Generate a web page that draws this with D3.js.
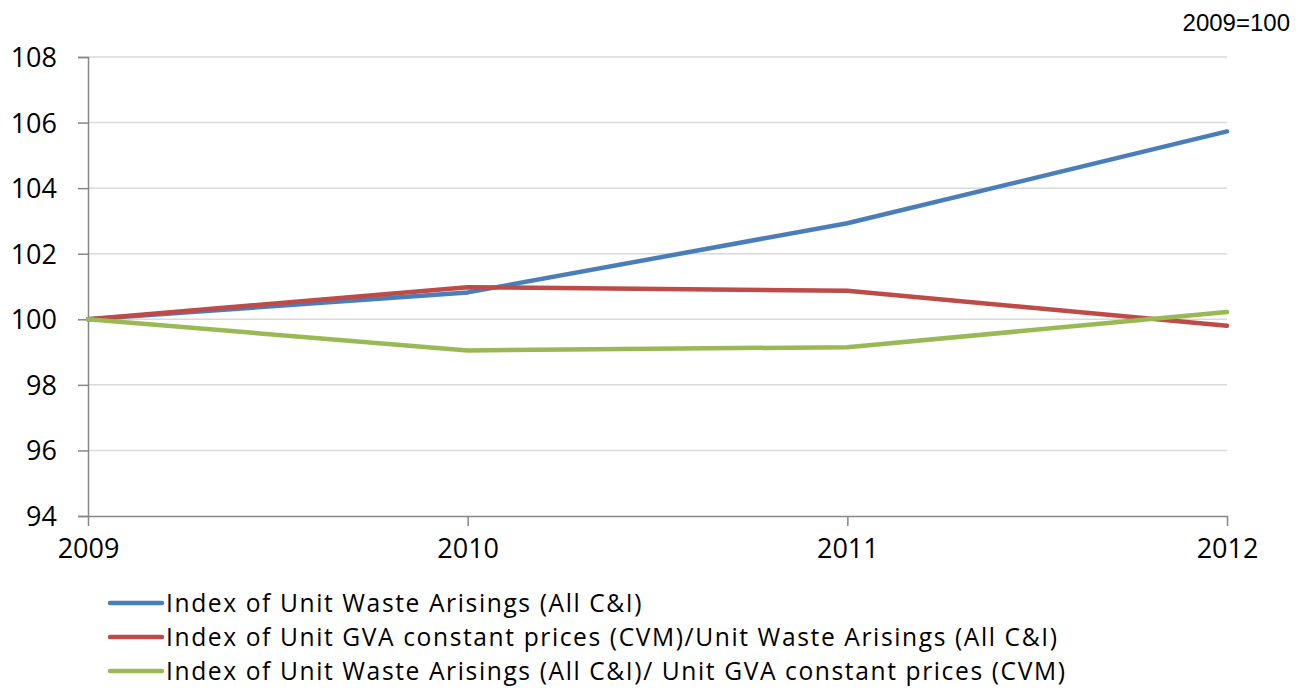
<!DOCTYPE html>
<html><head><meta charset="utf-8">
<script src="https://cdn.jsdelivr.net/npm/d3@7"></script>
<style>body{margin:0;background:#fff;} svg{display:block;}</style>
</head><body>
<svg id="c" width="1298" height="691"></svg>
<script>
const years = ["2009","2010","2011","2012"];
const yTicks = [94,96,98,100,102,104,106,108];
const blueVals = [100, 100.82, 102.93, 105.73];
const redVals = [100, 100.98, 100.87, 99.80];
const greenVals = [100, 99.05, 99.15, 100.22];
const seriesNames = [
  "Index of Unit Waste Arisings (All C&I)",
  "Index of Unit GVA constant prices (CVM)/Unit Waste Arisings (All C&I)",
  "Index of Unit Waste Arisings (All C&I)/ Unit GVA constant prices (CVM)"
];
const colors = ["#4a7ebb","#be4b48","#98b954"];
const series = [blueVals, redVals, greenVals];
const unitNote = "2009=100";

const svg = d3.select("#c");
const font = "'Open Sans', sans-serif";
const x = d3.scalePoint().domain(years).range([88,1227]);
const y = d3.scaleLinear().domain([94,108]).range([516,57]);

// gridlines
svg.append("g").selectAll("line").data(yTicks.filter(d=>d!==94)).join("line")
  .attr("x1",88).attr("x2",1227).attr("y1",d=>y(d)).attr("y2",d=>y(d))
  .attr("stroke","#d9d9d9").attr("stroke-width",1.5);

// y axis
const ya = svg.append("g").attr("transform","translate(88,0)")
  .call(d3.axisLeft(y).tickValues(yTicks).tickSize(10).tickPadding(21));
ya.select(".domain").attr("stroke","#868686").attr("stroke-width",1.5);
ya.selectAll(".tick line").attr("stroke","#868686").attr("stroke-width",1.5);
ya.selectAll("text").attr("font-family",font).attr("font-size",27).attr("fill","#000").attr("dy","0.35em");

// x axis
const xa = svg.append("g").attr("transform","translate(0,516)")
  .call(d3.axisBottom(x).tickSize(10).tickPadding(13).tickSizeOuter(0));
xa.select(".domain").attr("stroke","#868686").attr("stroke-width",1.5);
xa.selectAll(".tick line").attr("stroke","#868686").attr("stroke-width",1.5);
xa.selectAll("text").attr("font-family",font).attr("font-size",27).attr("fill","#000");

// lines
const line = d3.line().x((d,i)=>x(years[i])).y(d=>y(d));
svg.append("g").selectAll("path").data(series).join("path")
  .attr("d",line).attr("fill","none")
  .attr("stroke",(d,i)=>colors[i]).attr("stroke-width",4.5)
  .attr("stroke-linecap","round").attr("stroke-linejoin","round");

// note
svg.append("text").attr("x",1290).attr("y",31).attr("text-anchor","end")
  .attr("font-family","Arial, 'Liberation Sans', sans-serif").attr("font-size",24).text(unitNote);

// legend
const lg = svg.append("g").selectAll("g").data(seriesNames).join("g")
  .attr("transform",(d,i)=>`translate(0,${603+i*34})`);
lg.append("line").attr("x1",110).attr("x2",162).attr("y1",0).attr("y2",0)
  .attr("stroke",(d,i)=>colors[i]).attr("stroke-width",4.5).attr("stroke-linecap","round");
lg.append("text").attr("x",166).attr("y",0).attr("dy","0.36em")
  .attr("font-family",font).attr("font-size",24.6).attr("letter-spacing",1.6).text(d=>d);
</script>
</body></html>
